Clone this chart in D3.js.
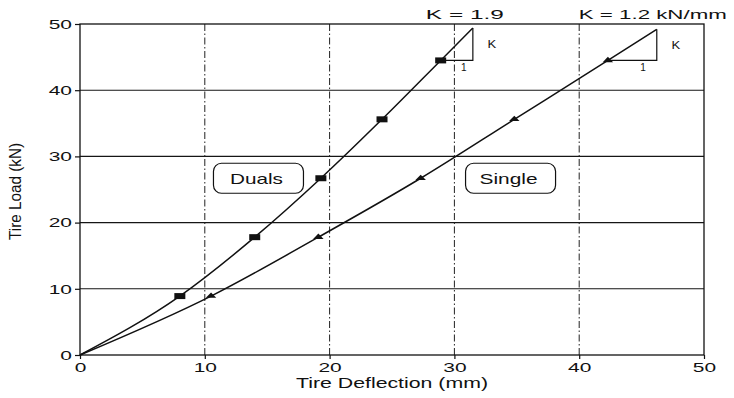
<!DOCTYPE html>
<html>
<head>
<meta charset="utf-8">
<script src="https://cdn.jsdelivr.net/npm/d3@7"></script>
<style>
  html, body { margin: 0; padding: 0; background: #fff; }
  svg { display: block; }
  text { font-family: "Liberation Sans", Arial, Helvetica, sans-serif; fill: #111; }
</style>
</head>
<body>
<svg id="chart" width="734" height="398"></svg>
<script>
// Tire load versus deflection for dual and single tires
const xTicks = [0, 10, 20, 30, 40, 50];
const yTicks = [0, 10, 20, 30, 40, 50];

const dualsDeflection = [0, 8.0, 14.0, 19.3, 24.2, 28.9];
const dualsLoad       = [0, 8.9, 17.8, 26.7, 35.6, 44.5];
const singleDeflection = [0, 10.5, 19.1, 27.3, 34.8, 42.3];
const singleLoad       = [0, 8.9, 17.8, 26.7, 35.6, 44.5];

// Stiffness (slope) of each curve at the top load, kN/mm
const dualsK = 1.9;
const singleK = 1.2;
// Height of each slope triangle, kN
const dualsRise = 4.9;
const singleRise = 4.7;

const seriesLabels = ["Duals", "Single"];
const kLabels = ["K = 1.9", "K = 1.2 kN/mm"];

const W = 734, H = 398;
const margin = { top: 24, right: 30, bottom: 43, left: 80 };

const svg = d3.select("#chart");
const x = d3.scaleLinear().domain([0, 50]).range([margin.left, W - margin.right]);
const y = d3.scaleLinear().domain([0, 50]).range([H - margin.bottom, margin.top]);

// stretch a text node horizontally to a given factor or width
function widen(sel, factor) {
  sel.each(function () {
    const len = this.getComputedTextLength();
    d3.select(this).attr("textLength", len * factor).attr("lengthAdjust", "spacingAndGlyphs");
  });
}
function fitWidth(sel, width) {
  sel.attr("textLength", width).attr("lengthAdjust", "spacingAndGlyphs");
}

// horizontal grid (solid)
svg.append("g")
  .selectAll("line")
  .data(yTicks.filter(t => t > 0 && t < 50))
  .join("line")
  .attr("x1", x(0)).attr("x2", x(50))
  .attr("y1", d => y(d)).attr("y2", d => y(d))
  .attr("stroke", "#151515").attr("stroke-width", 1.1);

// vertical grid (dash-dot)
svg.append("g")
  .selectAll("line")
  .data(xTicks.filter(t => t > 0 && t < 50))
  .join("line")
  .attr("y1", y(0)).attr("y2", y(50))
  .attr("x1", d => x(d)).attr("x2", d => x(d))
  .attr("stroke", "#222").attr("stroke-width", 1)
  .attr("stroke-dasharray", "7,2.5,1.5,2.5");

// frame
svg.append("rect")
  .attr("x", x(0)).attr("y", y(50))
  .attr("width", x(50) - x(0)).attr("height", y(0) - y(50))
  .attr("fill", "none").attr("stroke", "#111").attr("stroke-width", 1.3);

// axes
const gx = svg.append("g")
  .attr("transform", `translate(0,${y(0)})`)
  .call(d3.axisBottom(x).tickValues(xTicks).tickFormat(d3.format("d")).tickSize(4).tickPadding(3));
const gy = svg.append("g")
  .attr("transform", `translate(${x(0)},0)`)
  .call(d3.axisLeft(y).tickValues(yTicks).tickFormat(d3.format("d")).tickSize(5).tickPadding(3));

[gx, gy].forEach(g => {
  g.select(".domain").remove();
  g.selectAll(".tick line").attr("stroke", "#111").attr("stroke-width", 1.2);
  g.selectAll(".tick text")
    .attr("font-family", "Liberation Sans, Arial, sans-serif")
    .attr("font-size", 13.5).attr("fill", "#111");
});
gx.selectAll(".tick text").call(widen, 1.55);
gy.selectAll(".tick text").call(widen, 1.55);

// axis titles
svg.append("text")
  .attr("x", (x(0) + x(50)) / 2).attr("y", 388)
  .attr("text-anchor", "middle").attr("font-size", 14.5)
  .text("Tire Deflection (mm)")
  .call(fitWidth, 192);

svg.append("text")
  .attr("transform", `translate(21,${(y(0) + y(50)) / 2 + 2}) rotate(-90)`)
  .attr("text-anchor", "middle").attr("font-size", 16)
  .text("Tire Load (kN)")
  .call(fitWidth, 97);

// curves, each continued up its slope triangle
function curvePoints(xs, ys, k, rise) {
  const pts = xs.map((v, i) => [v, ys[i]]);
  const last = pts[pts.length - 1];
  const apex = [last[0] + rise / k, last[1] + rise];
  return { pts, last, apex };
}
const duals = curvePoints(dualsDeflection, dualsLoad, dualsK, dualsRise);
const single = curvePoints(singleDeflection, singleLoad, singleK, singleRise);

const line = d3.line()
  .x(d => x(d[0])).y(d => y(d[1]))
  .curve(d3.curveMonotoneX);

[duals, single].forEach(s => {
  svg.append("path")
    .attr("d", line(s.pts.concat([s.apex])))
    .attr("fill", "none").attr("stroke", "#111").attr("stroke-width", 1.5);

  // slope triangle legs
  svg.append("path")
    .attr("d", `M${x(s.last[0])},${y(s.last[1])} L${x(s.apex[0])},${y(s.last[1])} L${x(s.apex[0])},${y(s.apex[1])}`)
    .attr("fill", "none").attr("stroke", "#111").attr("stroke-width", 1.2);

  svg.append("text")
    .attr("x", x(s.apex[0]) + 19).attr("y", (y(s.last[1]) + y(s.apex[1])) / 2 + 4)
    .attr("text-anchor", "middle").attr("font-size", 10)
    .text("K").call(widen, 1.3);

  svg.append("text")
    .attr("x", x(s.last[0] + (s.apex[0] - s.last[0]) * 0.72)).attr("y", y(s.last[1]) + 11)
    .attr("text-anchor", "middle").attr("font-size", 10)
    .text("1");
});

// markers: squares for duals, triangles for single
svg.append("g")
  .selectAll("rect")
  .data(duals.pts.slice(1))
  .join("rect")
  .attr("x", d => x(d[0]) - 5.5).attr("y", d => y(d[1]) - 3)
  .attr("width", 11).attr("height", 6)
  .attr("fill", "#111");

const tri = d3.symbol(d3.symbolTriangle, 26);
svg.append("g")
  .selectAll("path")
  .data(single.pts.slice(1))
  .join("path")
  .attr("d", tri)
  .attr("transform", d => `translate(${x(d[0])},${y(d[1])}) scale(1.35,0.8)`)
  .attr("fill", "#111");

// slope labels above the frame
svg.append("text")
  .attr("x", x(duals.apex[0]) - 8).attr("y", 19)
  .attr("text-anchor", "middle").attr("font-size", 13)
  .text(kLabels[0]).call(fitWidth, 78);
svg.append("text")
  .attr("x", x(single.apex[0]) - 4).attr("y", 19)
  .attr("text-anchor", "middle").attr("font-size", 13)
  .text(kLabels[1]).call(fitWidth, 148);

// series name boxes
const boxes = [
  { label: seriesLabels[0], cx: 14.3, cy: 26.7, tw: 53 },
  { label: seriesLabels[1], cx: 34.5, cy: 26.7, tw: 58 }
];
boxes.forEach(b => {
  const bw = 90, bh = 30;
  svg.append("rect")
    .attr("x", x(b.cx) - bw / 2).attr("y", y(b.cy) - bh / 2)
    .attr("width", bw).attr("height", bh)
    .attr("rx", 8).attr("ry", 8)
    .attr("fill", "#fff").attr("stroke", "#111").attr("stroke-width", 1.2);
  svg.append("text")
    .attr("x", x(b.cx) - 2).attr("y", y(b.cy) + 5.5)
    .attr("text-anchor", "middle").attr("font-size", 15)
    .text(b.label).call(fitWidth, b.tw);
});
</script>
</body>
</html>
